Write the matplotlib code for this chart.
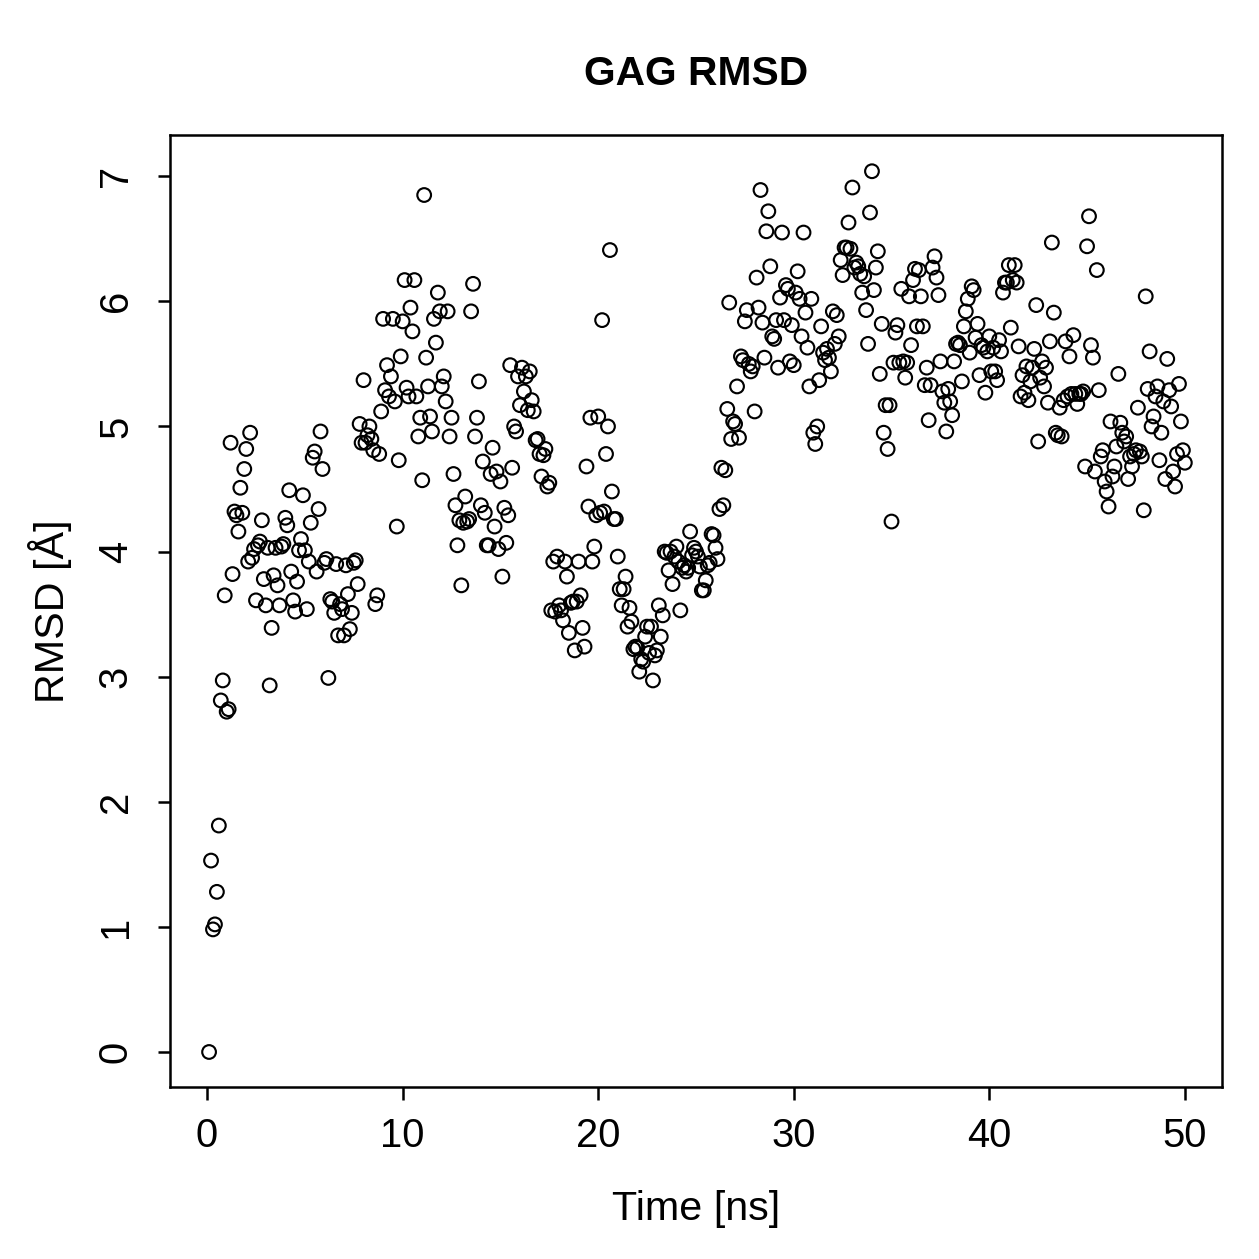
import numpy as np
import matplotlib
matplotlib.use("Agg")
import matplotlib.pyplot as plt

# -----------------------------
# Data, one frame every 0.1 ns
# -----------------------------
rmsd_0_10 = [
    0.00, 1.53, 0.98, 1.02, 1.28, 1.81, 2.81, 2.97, 3.65, 2.72,
    2.74, 4.87, 3.82, 4.32, 4.29, 4.16, 4.51, 4.31, 4.66, 4.82,
    3.92, 4.95, 3.95, 4.02, 3.61, 4.05, 4.08, 4.25, 3.78, 3.57,
    4.03, 2.93, 3.39, 3.81, 4.03, 3.73, 3.57, 4.04, 4.06, 4.27,
    4.21, 4.49, 3.84, 3.61, 3.52, 3.76, 4.01, 4.10, 4.45, 4.01,
    3.54, 3.92, 4.23, 4.75, 4.80, 3.84, 4.34, 4.96, 4.66, 3.91,
    3.94, 2.99, 3.62, 3.60, 3.51, 3.90, 3.33, 3.58, 3.54, 3.33,
    3.89, 3.66, 3.38, 3.51, 3.91, 3.93, 3.74, 5.02, 4.87, 5.37,
    4.87, 4.93, 5.00, 4.90, 4.81, 3.58, 3.65, 4.78, 5.12, 5.86,
    5.29, 5.49, 5.24, 5.40, 5.86, 5.20, 4.20, 4.73, 5.56, 5.84,
]
rmsd_10_20 = [
    6.17, 5.31, 5.24, 5.95, 5.76, 6.17, 5.24, 4.92, 5.07, 4.57,
    6.85, 5.55, 5.32, 5.08, 4.96, 5.86, 5.67, 6.07, 5.92, 5.32,
    5.40, 5.20, 5.92, 4.92, 5.07, 4.62, 4.37, 4.05, 4.25, 3.73,
    4.23, 4.44, 4.24, 4.26, 5.92, 6.14, 4.92, 5.07, 5.36, 4.37,
    4.72, 4.31, 4.05, 4.05, 4.62, 4.83, 4.20, 4.64, 4.02, 4.56,
    3.80, 4.35, 4.07, 4.29, 5.49, 4.67, 5.00, 4.96, 5.40, 5.17,
    5.47, 5.28, 5.40, 5.13, 5.44, 5.21, 5.12, 4.89, 4.90, 4.78,
    4.60, 4.77, 4.82, 4.52, 4.55, 3.53, 3.92, 3.52, 3.96, 3.57,
    3.53, 3.45, 3.92, 3.80, 3.35, 3.59, 3.60, 3.21, 3.60, 3.92,
    3.65, 3.39, 3.24, 4.68, 4.36, 5.07, 3.92, 4.04, 4.29, 5.08,
]
rmsd_20_30 = [
    4.31, 5.85, 4.32, 4.78, 5.00, 6.41, 4.48, 4.26, 4.26, 3.96,
    3.70, 3.57, 3.70, 3.80, 3.40, 3.55, 3.44, 3.22, 3.24, 3.23,
    3.04, 3.14, 3.12, 3.32, 3.40, 3.19, 3.40, 2.97, 3.17, 3.21,
    3.57, 3.32, 3.49, 4.00, 3.99, 3.85, 4.00, 3.74, 3.96, 4.04,
    3.92, 3.53, 3.87, 3.89, 3.84, 3.87, 4.16, 3.97, 4.03, 4.00,
    3.96, 3.88, 3.69, 3.69, 3.77, 3.89, 3.91, 4.14, 4.13, 4.03,
    3.94, 4.34, 4.67, 4.37, 4.65, 5.14, 5.99, 4.90, 5.04, 5.02,
    5.32, 4.91, 5.56, 5.53, 5.84, 5.93, 5.50, 5.44, 5.48, 5.12,
    6.19, 5.95, 6.89, 5.83, 5.55, 6.56, 6.72, 6.28, 5.72, 5.70,
    5.85, 5.47, 6.03, 6.55, 5.85, 6.13, 6.10, 5.52, 5.81, 5.49,
]
rmsd_30_40 = [
    6.07, 6.24, 6.02, 5.72, 6.55, 5.91, 5.63, 5.32, 6.02, 4.95,
    4.86, 5.00, 5.37, 5.80, 5.59, 5.53, 5.62, 5.55, 5.44, 5.92,
    5.66, 5.89, 5.72, 6.33, 6.21, 6.43, 6.43, 6.63, 6.42, 6.91,
    6.27, 6.31, 6.28, 6.22, 6.07, 6.20, 5.93, 5.66, 6.71, 7.04,
    6.09, 6.27, 6.40, 5.42, 5.82, 4.95, 5.17, 4.82, 5.17, 4.24,
    5.51, 5.75, 5.81, 5.51, 6.10, 5.52, 5.39, 5.51, 6.04, 5.65,
    6.17, 6.26, 5.80, 6.25, 6.04, 5.80, 5.33, 5.47, 5.05, 5.33,
    6.27, 6.36, 6.19, 6.05, 5.52, 5.28, 5.19, 4.96, 5.30, 5.20,
    5.09, 5.52, 5.66, 5.67, 5.65, 5.36, 5.80, 5.92, 6.02, 5.59,
    6.12, 6.09, 5.71, 5.82, 5.41, 5.65, 5.63, 5.27, 5.60, 5.72,
]
rmsd_40_50 = [
    5.44, 5.63, 5.44, 5.37, 5.69, 5.60, 6.07, 6.15, 6.15, 6.29,
    5.79, 6.17, 6.29, 6.15, 5.64, 5.24, 5.41, 5.27, 5.48, 5.21,
    5.36, 5.47, 5.62, 5.97, 4.88, 5.39, 5.52, 5.32, 5.47, 5.19,
    5.68, 6.47, 5.91, 4.95, 4.93, 5.15, 4.92, 5.21, 5.68, 5.24,
    5.56, 5.26, 5.73, 5.26, 5.18, 5.26, 5.26, 5.28, 4.68, 6.44,
    6.68, 5.65, 5.55, 4.64, 6.25, 5.29, 4.76, 4.81, 4.56, 4.48,
    4.36, 5.04, 4.60, 4.68, 4.84, 5.42, 5.03, 4.95, 4.88, 4.92,
    4.58, 4.76, 4.68, 4.78, 4.81, 5.15, 4.80, 4.76, 4.33, 6.04,
    5.30, 5.60, 5.00, 5.08, 5.24, 5.32, 4.73, 4.95, 5.20, 4.58,
    5.54, 5.29, 5.16, 4.64, 4.52, 4.78, 5.34, 5.04, 4.81, 4.71,
]

rmsd = rmsd_0_10 + rmsd_10_20 + rmsd_20_30 + rmsd_30_40 + rmsd_40_50
time_ns = np.round(np.arange(1, len(rmsd) + 1) * 0.1, 1)

x_ticks = [0, 10, 20, 30, 40, 50]
y_ticks = [0, 1, 2, 3, 4, 5, 6, 7]

# -----------------------------
# Plot (R base-graphics look)
# -----------------------------
plt.rcParams["font.family"] = ["Liberation Sans", "DejaVu Sans"]

fig = plt.figure(figsize=(1259 / 180, 1259 / 180), dpi=180)
ax = fig.add_axes([0.135, 0.1366, 0.8356, 0.7562])

ax.scatter(time_ns, rmsd, s=30, facecolors="none", edgecolors="black",
           linewidths=0.85)

ax.set_xlim(-1.9, 51.9)
ax.set_ylim(-0.28, 7.33)
ax.set_xticks(x_ticks)
ax.set_yticks(y_ticks)
ax.set_yticklabels([str(v) for v in y_ticks], rotation=90, va="center")

ax.tick_params(axis="x", direction="out", length=5, width=1.0,
               labelsize=16, pad=7)
ax.tick_params(axis="y", direction="out", length=5, width=1.0,
               labelsize=16, pad=9)
for s in ax.spines.values():
    s.set_linewidth(1.0)

ax.set_xlabel("Time [ns]", fontsize=16.5, labelpad=14)
ax.set_ylabel("RMSD [Å]", fontsize=16.5, labelpad=10)
ax.set_title("GAG RMSD", fontsize=16.3, fontweight="bold", pad=20)

fig.savefig("out.png", dpi=180)
plt.close(fig)
